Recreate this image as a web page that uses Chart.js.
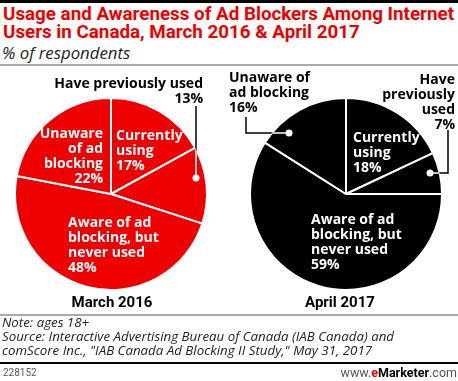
<!DOCTYPE html>
<html>
<head>
<meta charset="utf-8">
<script src="https://cdn.jsdelivr.net/npm/chart.js@4/dist/chart.umd.min.js"></script>
<style>
body { margin: 0; width: 458px; height: 381px; position: relative; background: #fff; overflow: hidden; font-family: Roboto, sans-serif; }
.abs { position: absolute; white-space: nowrap; }
.rule { position: absolute; left: 0; width: 458px; }
#title { left: 3px; top: 5px; color: #ee0000; font-weight: 700; font-size: 18.8px; line-height: 18px; }
#subtitle { left: 2px; top: 41px; font-family: 'Open Sans', sans-serif; font-style: italic; font-size: 16.8px; color: #222; }
.pieName { top: 293px; font-weight: 700; font-size: 15px; color: #000; transform: translateX(-50%); }
#notes { left: 2px; top: 315px; font-family: 'Open Sans', sans-serif; font-style: italic; font-size: 13.3px; line-height: 14px; color: #222; }
#code { left: 3px; top: 367px; font-size: 10px; color: #555; }
#brand { right: 1px; top: 365px; font-size: 12.5px; color: #555; }
#brand b { color: #000; }
#brand .e { color: #ee0000; font-weight: 700; }
</style>
</head>
<body>
<div class="rule" style="top:0;height:3px;background:#000"></div>
<div class="abs" id="title">Usage and Awareness of Ad Blockers Among Internet<br>Users in Canada, March 2016 &amp; April 2017</div>
<div class="abs" id="subtitle">% of respondents</div>
<div class="rule" style="top:64px;height:2px;background:#aaa"></div>

<canvas id="pie2016" class="abs" style="left:0;top:66px" width="228" height="246"></canvas>
<canvas id="pie2017" class="abs" style="left:228px;top:66px" width="230" height="246"></canvas>
<div class="abs pieName" id="name0" style="left:112px"></div>
<div class="abs pieName" id="name1" style="left:340px"></div>

<div class="rule" style="top:314px;height:2px;background:#aaa"></div>
<div class="abs" id="notes">Note: ages 18+<br>Source: Interactive Advertising Bureau of Canada (IAB Canada) and<br>comScore Inc., "IAB Canada Ad Blocking II Study," May 31, 2017</div>
<div class="rule" style="top:362px;height:2px;background:#000"></div>
<div class="abs" id="code">228152</div>
<div class="abs" id="brand">www.<span class="e">e</span><b>Marketer</b>.com</div>

<script>
'use strict';

var categories = ['Currently using', 'Have previously used', 'Aware of ad blocking, but never used', 'Unaware of ad blocking'];
var values2016 = [17, 13, 48, 22];
var values2017 = [18, 7, 59, 16];
var pieNames = ['March 2016', 'April 2017'];

var RED = '#ee0000';
var LINE_H = 15;

// label placement, offsets from the pie centre
var labels2016 = [
	{ lines: ['Currently', 'using'], dx: 5, dy: -58, align: 'left', color: '#fff' },
	{ lines: ['Have previously used'], dx: 92, dy: -110, align: 'right', color: '#000',
		leader: [[85, -88], [85, -16]] },
	{ lines: ['Aware of ad', 'blocking, but', 'never used'], dx: -43, dy: 29, align: 'left', color: '#fff' },
	{ lines: ['Unaware', 'of ad', 'blocking'], dx: -8, dy: -60, align: 'right', color: '#fff' }
];
var labels2017 = [
	{ lines: ['Currently', 'using'], dx: 7, dy: -56, align: 'left', color: '#fff' },
	{ lines: ['Have', 'previously', 'used'], dx: 109, dy: -114, align: 'right', color: '#000',
		leader: [[102, -64], [102, -21], [84, -21]] },
	{ lines: ['Aware of ad', 'blocking, but', 'never used'], dx: -35, dy: 26, align: 'left', color: '#fff' },
	{ lines: ['Unaware of', 'ad blocking'], dx: -117, dy: -116, align: 'left', color: '#000',
		leader: [[-100, -77], [-100, -61], [-57, -61]] }
];

var sliceLabels = {
	id: 'sliceLabels',
	afterDatasetsDraw: function(chart, args, opts) {
		var ctx = chart.ctx;
		var arcs = chart.getDatasetMeta(0).data;
		var cx = arcs[0].x, cy = arcs[0].y, r = arcs[0].outerRadius;
		var values = chart.data.datasets[0].data;

		opts.labels.forEach(function(lab, i) {
			var lines = lab.lines.concat([values[i] + '%']);
			ctx.save();
			ctx.font = 'bold 14px "Open Sans"';
			ctx.fillStyle = lab.color;
			ctx.textAlign = lab.align;
			ctx.textBaseline = 'middle';
			lines.forEach(function(t, k) {
				ctx.fillText(t, cx + lab.dx, cy + lab.dy + k * LINE_H);
			});

			if (lab.leader) {
				var pts = lab.leader;
				var path = function() {
					ctx.beginPath();
					ctx.moveTo(cx + pts[0][0], cy + pts[0][1]);
					for (var j = 1; j < pts.length; j++) ctx.lineTo(cx + pts[j][0], cy + pts[j][1]);
				};
				ctx.lineWidth = 1.5;
				ctx.strokeStyle = '#000';
				path();
				ctx.stroke();
				// part of the leader over the pie is white
				ctx.save();
				ctx.beginPath();
				ctx.arc(cx, cy, r, 0, Math.PI * 2);
				ctx.clip();
				ctx.strokeStyle = '#fff';
				path();
				ctx.stroke();
				ctx.restore();
				var last = pts[pts.length - 1];
				ctx.fillStyle = '#fff';
				ctx.beginPath();
				ctx.arc(cx + last[0], cy + last[1], 3.5, 0, Math.PI * 2);
				ctx.fill();
			}
			ctx.restore();
		});
	}
};

function makePie(id, values, color, labels, pad) {
	var ctx = document.getElementById(id).getContext('2d');
	return new Chart(ctx, {
		type: 'pie',
		data: {
			labels: categories,
			datasets: [{
				data: values,
				backgroundColor: color,
				borderColor: '#fff',
				borderWidth: 2
			}]
		},
		options: {
			responsive: false,
			animation: false,
			events: [],
			layout: { padding: pad },
			plugins: {
				legend: { display: false },
				tooltip: { enabled: false },
				sliceLabels: { labels: labels }
			}
		},
		plugins: [sliceLabels]
	});
}

document.getElementById('name0').textContent = pieNames[0];
document.getElementById('name1').textContent = pieNames[1];

makePie('pie2016', values2016, RED, labels2016, { left: 14, right: 20, top: 31, bottom: 21 });
makePie('pie2017', values2017, '#000', labels2017, { left: 21, right: 15, top: 31, bottom: 21 });
</script>
</body>
</html>
